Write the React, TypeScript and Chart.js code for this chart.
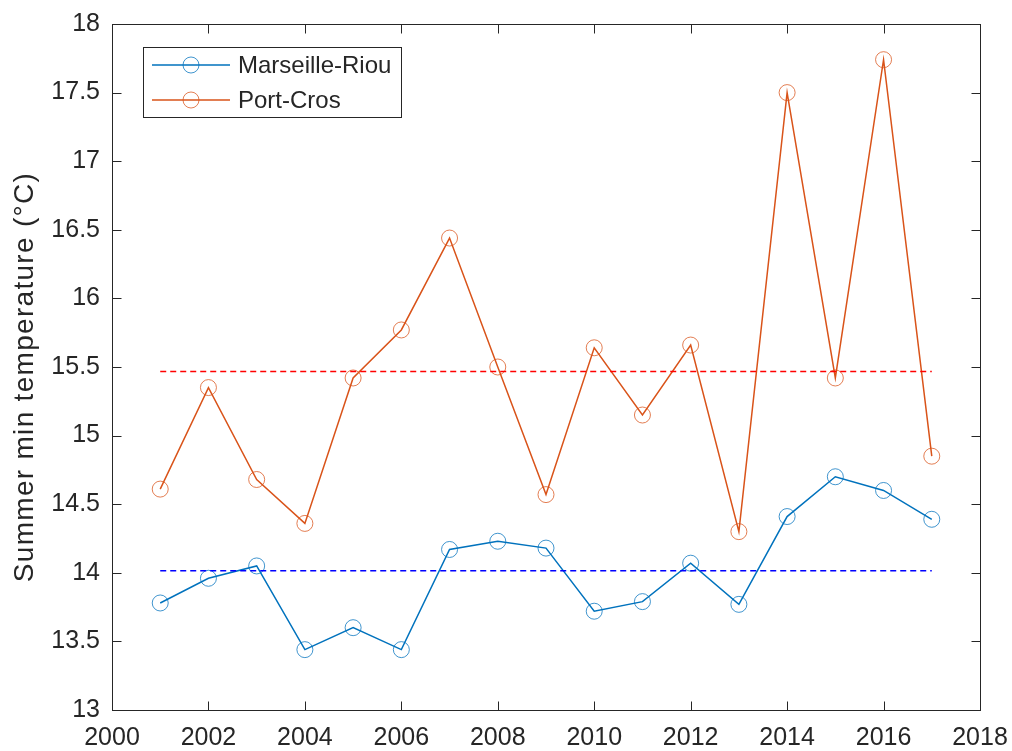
import React, { useEffect, useRef } from "react";
import { Chart, registerables } from "chart.js";

Chart.register(...registerables);

const years = [2001, 2002, 2003, 2004, 2005, 2006, 2007, 2008, 2009, 2010, 2011, 2012, 2013, 2014, 2015, 2016, 2017];
const marseilleRiou = [13.78, 13.96, 14.05, 13.44, 13.6, 13.44, 14.17, 14.23, 14.18, 13.72, 13.79, 14.07, 13.77, 14.41, 14.7, 14.6, 14.39];
const portCros = [14.61, 15.35, 14.68, 14.36, 15.42, 15.77, 16.44, 15.5, 14.57, 15.64, 15.15, 15.66, 14.3, 17.5, 15.42, 17.74, 14.85];
const meanMarseille = 14.015;
const meanPortCros = 15.467;
const xTicks = [2000, 2002, 2004, 2006, 2008, 2010, 2012, 2014, 2016, 2018];
const yTicks = [13, 13.5, 14, 14.5, 15, 15.5, 16, 16.5, 17, 17.5, 18];
const seriesLabels = ["Marseille-Riou", "Port-Cros"];
const yTitle = "Summer min temperature (°C)";

const FONT = "'Liberation Sans', Arial, Helvetica, sans-serif";
const TEXT = "#262626";
const BLUE = "#0072BD";
const ORANGE = "#D95319";

const boxPlugin = {
  id: "matlabBox",
  afterDatasetsDraw(chart: any) {
    const { ctx, chartArea: a, scales } = chart;
    ctx.save();
    ctx.strokeStyle = TEXT;
    ctx.lineWidth = 1;
    const L = Math.round(a.left) + 0.5;
    const R = Math.round(a.right) + 0.5;
    const T = Math.round(a.top) + 0.5;
    const B = Math.round(a.bottom) + 0.5;
    ctx.strokeRect(L, T, R - L, B - T);
    const tl = 9;
    ctx.beginPath();
    xTicks.forEach((v) => {
      const x = Math.round(scales.x.getPixelForValue(v)) + 0.5;
      ctx.moveTo(x, B);
      ctx.lineTo(x, B - tl);
      ctx.moveTo(x, T);
      ctx.lineTo(x, T + tl);
    });
    yTicks.forEach((v) => {
      const y = Math.round(scales.y.getPixelForValue(v)) + 0.5;
      ctx.moveTo(L, y);
      ctx.lineTo(L + tl, y);
      ctx.moveTo(R, y);
      ctx.lineTo(R - tl, y);
    });
    ctx.stroke();

    // y-axis title
    ctx.save();
    ctx.translate(33, 377);
    ctx.rotate(-Math.PI / 2);
    ctx.fillStyle = TEXT;
    ctx.font = `28px ${FONT}`;
    (ctx as any).letterSpacing = "1.3px";
    ctx.textAlign = "center";
    ctx.textBaseline = "alphabetic";
    ctx.fillText(yTitle, 0, 0);
    ctx.restore();

    // legend
    const lx = 143.5, ly = 47.5, lw = 258, lh = 70;
    ctx.fillStyle = "#fff";
    ctx.fillRect(lx, ly, lw, lh);
    ctx.strokeStyle = TEXT;
    ctx.lineWidth = 1;
    ctx.strokeRect(lx, ly, lw, lh);
    const colors = [BLUE, ORANGE];
    const rows = [65, 100];
    seriesLabels.forEach((lab, i) => {
      const y = rows[i];
      ctx.strokeStyle = colors[i];
      ctx.lineWidth = 1.5;
      ctx.beginPath();
      ctx.moveTo(152, y);
      ctx.lineTo(230, y);
      ctx.stroke();
      ctx.lineWidth = 1;
      ctx.globalAlpha = 0.75;
      ctx.beginPath();
      ctx.arc(191, y, 8, 0, Math.PI * 2);
      ctx.stroke();
      ctx.globalAlpha = 1;
      ctx.fillStyle = TEXT;
      ctx.font = `24px ${FONT}`;
      ctx.textBaseline = "middle";
      ctx.textAlign = "left";
      ctx.fillText(lab, 238, y + 1);
    });
    ctx.restore();
  },
};

export default function App() {
  const ref = useRef<HTMLCanvasElement | null>(null);
  useEffect(() => {
    if (!ref.current) return;
    const mk = (vals: number[]) => vals.map((v, i) => ({ x: years[i], y: v }));
    const first = years[0];
    const last = years[years.length - 1];
    const chart = new Chart(ref.current, {
      type: "line",
      data: {
        datasets: [
          {
            label: "meanPortCros",
            data: [{ x: first, y: meanPortCros }, { x: last, y: meanPortCros }],
            borderColor: "#FF0000",
            borderWidth: 1.5,
            borderDash: [6, 4],
            pointRadius: 0,
          },
          {
            label: "meanMarseille",
            data: [{ x: first, y: meanMarseille }, { x: last, y: meanMarseille }],
            borderColor: "#0000FF",
            borderWidth: 1.5,
            borderDash: [6, 4],
            pointRadius: 0,
          },
          {
            label: seriesLabels[0],
            data: mk(marseilleRiou),
            borderColor: BLUE,
            borderWidth: 1.5,
            pointRadius: 8,
            pointBorderWidth: 1,
            pointBorderColor: "rgba(0,114,189,0.75)",
            pointBackgroundColor: "rgba(0,0,0,0)",
            tension: 0,
          },
          {
            label: seriesLabels[1],
            data: mk(portCros),
            borderColor: ORANGE,
            borderWidth: 1.5,
            pointRadius: 8,
            pointBorderWidth: 1,
            pointBorderColor: "rgba(217,83,25,0.75)",
            pointBackgroundColor: "rgba(0,0,0,0)",
            tension: 0,
          },
        ],
      },
      options: {
        responsive: false,
        animation: false,
        layout: { padding: { top: 24, right: 32, left: 0, bottom: 0 } },
        plugins: { legend: { display: false }, tooltip: { enabled: false } },
        scales: {
          x: {
            type: "linear",
            min: 2000,
            max: 2018,
            afterBuildTicks: (s: any) => {
              s.ticks = xTicks.map((v) => ({ value: v }));
            },
            afterFit: (s: any) => {
              s.height = 41;
              s.paddingLeft = 0;
              s.paddingRight = 0;
            },
            grid: { display: false, drawTicks: false },
            border: { display: false },
            ticks: {
              color: TEXT,
              font: { family: FONT, size: 25 },
              padding: 13,
              maxRotation: 0,
              autoSkip: false,
              callback: (v: any) => String(v),
            },
          },
          y: {
            type: "linear",
            min: 13,
            max: 18,
            afterBuildTicks: (s: any) => {
              s.ticks = yTicks.map((v) => ({ value: v }));
            },
            afterFit: (s: any) => {
              s.width = 112;
              s.paddingTop = 0;
              s.paddingBottom = 0;
            },
            grid: { display: false, drawTicks: false },
            border: { display: false },
            ticks: {
              color: TEXT,
              font: { family: FONT, size: 25 },
              padding: 12,
              autoSkip: false,
              callback: (v: any) => String(v),
            },
          },
        },
      },
      plugins: [boxPlugin],
    });
    return () => chart.destroy();
  }, []);
  return (
    <div style={{ position: "absolute", left: 0, top: 0, width: 1012, height: 751, background: "#fff" }}>
      <canvas ref={ref} width={1012} height={751} style={{ display: "block" }} />
    </div>
  );
}
